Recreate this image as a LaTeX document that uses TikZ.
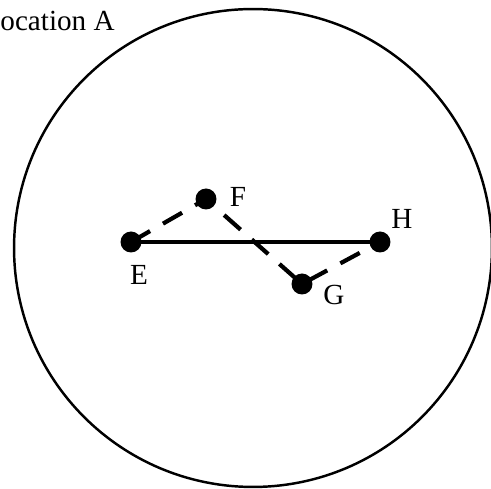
\documentclass[tikz,border=0pt]{standalone}
\usepackage{fontspec}
\setmainfont{Liberation Serif}
\usetikzlibrary{positioning}
\tikzset{
  region/.style={circle, draw=black, line width=1.4pt, inner sep=0pt, minimum size=9.56cm},
  dot/.style={circle, fill=black, inner sep=0pt, minimum size=0.42cm},
  lbl/.style={font=\fontsize{16.6}{19}\selectfont, inner sep=0pt},
  route/.style={line width=2.4pt},
  detour/.style={line width=2.4pt, dash pattern=on 12.5pt off 8.5pt},
}
\begin{document}
\begin{tikzpicture}[x=0.02cm, y=-0.02cm]
\useasboundingbox (0,0) rectangle (491,489);
% the area and its name
\node[region] (area) at (253,248) {};
\node[lbl, anchor=base east] (name) at (115,31) {Location A};

% the four points
\node[dot] (e) at (131,242) {};
\node[dot] (f) at (206,199) {};
\node[dot] (g) at (302,284) {};
\node[dot] (h) at (380,242) {};

\node[lbl] (le) at (139,275) {E};
\node[lbl] (lf) at (238,197) {F};
\node[lbl] (lg) at (334,295) {G};
\node[lbl] (lh) at (402,219) {H};

% direct way and the way round
\draw[route] (e.center) -- (h.center);
\draw[detour] (e.center) -- (f.center) -- (g.center) -- (h.center);
\end{tikzpicture}
\end{document}
